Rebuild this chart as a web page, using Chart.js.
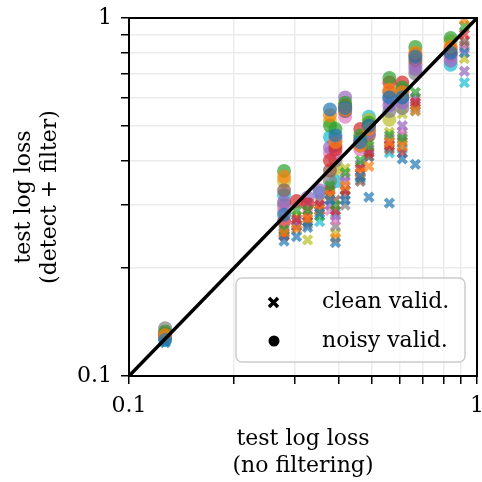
<!DOCTYPE html>
<html lang="en">
  <head>
    <meta charset="UTF-8" />
    <title>test log loss</title>
    <style>
      html, body { margin: 0; padding: 0; background: #fff; }
      .chartBox { width: 482px; height: 482px; }
    </style>
  </head>
  <body>
    <div class="chartBox">
      <canvas id="myChart"></canvas>
    </div>
    <script src="https://cdn.jsdelivr.net/npm/chart.js"></script>
    <script>
      // x: test log loss with no filtering, one value per column of points
      const lossNoFilter = [0.127, 0.279, 0.303, 0.326, 0.353, 0.378, 0.392, 0.418, 0.462, 0.489, 0.56, 0.61, 0.665, 0.84, 0.92];
      // colour order: blue, orange, green, red, purple, brown, pink, gray, olive, cyan
      const cleanValid = [
        [0.124, 0.128, 0.131, 0.129, 0.127, 0.126, 0.13, 0.134, 0.129, 0.125],
        [0.238, 0.25, 0.256, 0.246, 0.252, 0.25, 0.248, 0.251, 0.253, 0.247],
        [0.245, 0.257, 0.29, 0.275, 0.27, 0.262, 0.265, 0.262, 0.28, 0.272],
        [0.26, 0.275, 0.29, 0.28, 0.305, 0.27, 0.285, 0.265, 0.24, 0.27],
        [0.285, 0.29, 0.28, 0.3, 0.31, 0.295, 0.3, 0.29, 0.305, 0.27],
        [0.31, 0.32, 0.34, 0.33, 0.3, 0.32, 0.29, 0.31, 0.325, 0.335],
        [0.236, 0.243, 0.3, 0.29, 0.28, 0.31, 0.272, 0.262, 0.25, 0.285],
        [0.31, 0.34, 0.37, 0.33, 0.35, 0.32, 0.36, 0.3, 0.38, 0.33],
        [0.36, 0.37, 0.4, 0.38, 0.39, 0.35, 0.37, 0.36, 0.38, 0.355],
        [0.316, 0.385, 0.44, 0.42, 0.43, 0.41, 0.43, 0.42, 0.45, 0.41],
        [0.304, 0.45, 0.47, 0.44, 0.46, 0.43, 0.45, 0.44, 0.48, 0.42],
        [0.404, 0.44, 0.46, 0.42, 0.5, 0.45, 0.48, 0.47, 0.54, 0.43],
        [0.39, 0.55, 0.62, 0.58, 0.6, 0.57, 0.59, 0.56, 0.59, 0.55],
        [null, null, null, null, null, null, null, null, null, null],
        [0.8, 0.99, 0.95, 0.9, 0.71, 0.86, 0.82, 0.84, 0.77, 0.66],
      ];
      const noisyValid = [
        [0.126, 0.13, 0.133, 0.131, 0.129, 0.128, 0.132, 0.136, 0.131, 0.127],
        [0.282, 0.36, 0.374, 0.27, 0.306, 0.33, 0.29, 0.3, 0.35, 0.32],
        [null, null, null, 0.308, null, null, null, null, null, null],
        [null, null, null, 0.302, 0.315, null, null, null, null, null],
        [null, null, null, null, 0.33, null, null, null, null, 0.325],
        [0.555, 0.535, 0.5, 0.4, 0.435, 0.375, 0.42, 0.35, 0.515, 0.465],
        [0.47, 0.45, 0.49, 0.43, 0.46, 0.44, 0.42, 0.4, 0.38, 0.35],
        [0.56, 0.555, 0.58, 0.57, 0.6, 0.55, 0.53, 0.56, 0.565, 0.55],
        [0.45, 0.44, 0.47, 0.49, 0.46, 0.45, 0.43, 0.44, 0.46, 0.44],
        [0.5, 0.49, 0.51, 0.5, 0.48, 0.47, 0.5, 0.49, 0.52, 0.53],
        [0.6, 0.63, 0.68, 0.66, 0.57, 0.62, 0.59, 0.55, 0.52, 0.6],
        [0.6, 0.62, 0.64, 0.66, 0.58, 0.6, 0.62, 0.56, 0.6, 0.63],
        [0.78, 0.8, 0.83, 0.79, 0.72, 0.76, 0.74, 0.7, 0.77, 0.74],
        [0.8, 0.83, 0.88, 0.82, 0.76, 0.8, 0.78, 0.79, 0.86, 0.74],
        [null, null, null, null, null, null, null, null, null, null],
      ];
      const logTicks = [0.1, 0.2, 0.3, 0.4, 0.5, 0.6, 0.7, 0.8, 0.9, 1];
      const tab10 = ["31,119,180", "255,127,14", "44,160,44", "214,39,40", "148,103,189", "140,86,75", "227,119,194", "127,127,127", "188,189,34", "23,190,207"];

      const FONT = { family: "'DejaVu Serif', serif", size: 22 };

      function pointsFor(table, i) {
        const pts = [];
        for (let c = 0; c < lossNoFilter.length; c++) {
          if (table[c][i] != null) pts.push({ x: lossNoFilter[c], y: table[c][i] });
        }
        return pts;
      }

      const datasets = [
        {
          type: "line",
          data: [{ x: 0.1, y: 0.1 }, { x: 1, y: 1 }],
          borderColor: "#000",
          borderWidth: 3.5,
          pointRadius: 0,
          order: 0,
        },
      ];
      for (let i = 0; i < tab10.length; i++) {
        datasets.push({
          data: pointsFor(cleanValid, i),
          pointStyle: "crossRot",
          pointRadius: 6,
          borderWidth: 4,
          borderColor: `rgba(${tab10[i]},0.7)`,
          backgroundColor: `rgba(${tab10[i]},0.7)`,
          order: 1,
        });
        datasets.push({
          data: pointsFor(noisyValid, i),
          pointStyle: "circle",
          pointRadius: 7,
          borderWidth: 0,
          backgroundColor: `rgba(${tab10[i]},0.7)`,
          order: 1,
        });
      }

      const frameAndLegend = {
        id: "frameAndLegend",
        afterDatasetsDraw(chart) {
          const ctx = chart.ctx;
          const a = chart.chartArea;
          ctx.save();
          ctx.strokeStyle = "#000";
          ctx.lineWidth = 2;
          ctx.strokeRect(a.left, a.top, a.right - a.left, a.bottom - a.top);
          // legend box
          const bx = 236, by = 278, bw = 229, bh = 84;
          ctx.beginPath();
          ctx.roundRect(bx, by, bw, bh, 6);
          ctx.fillStyle = "rgba(255,255,255,0.8)";
          ctx.fill();
          ctx.strokeStyle = "#cccccc";
          ctx.lineWidth = 1.5;
          ctx.stroke();
          ctx.strokeStyle = "#000";
          ctx.lineWidth = 3.5;
          ctx.beginPath();
          ctx.moveTo(269, 298); ctx.lineTo(278, 307);
          ctx.moveTo(278, 298); ctx.lineTo(269, 307);
          ctx.stroke();
          ctx.fillStyle = "#000";
          ctx.beginPath();
          ctx.arc(274, 341, 5.5, 0, Math.PI * 2);
          ctx.fill();
          ctx.font = `${FONT.size}px ${FONT.family}`;
          ctx.textAlign = "left";
          ctx.textBaseline = "middle";
          ctx.fillText("clean valid.", 322, 302);
          ctx.fillText("noisy valid.", 322, 341);
          ctx.restore();
        },
      };

      function logAxis(extra) {
        return Object.assign({
          type: "logarithmic",
          min: 0.1,
          max: 1,
          afterBuildTicks(scale) {
            scale.ticks = logTicks.map((v) => ({ value: v, major: v === 0.1 || v === 1 }));
          },
          ticks: {
            autoSkip: false,
            maxRotation: 0,
            color: "#000",
            font: FONT,
            padding: 9,
            callback: (v) => (v === 0.1 ? "0.1" : v === 1 ? "1" : ""),
          },
          grid: {
            color: "#ebebeb",
            lineWidth: 1.5,
            tickColor: "#000",
            tickLength: 8,
            tickWidth: 1.5,
          },
          border: { color: "#000", width: 2 },
        }, extra);
      }

      const ctx = document.getElementById("myChart").getContext("2d");
      const myChart = new Chart(ctx, {
        type: "scatter",
        data: { datasets: datasets },
        options: {
          responsive: true,
          maintainAspectRatio: false,
          animation: false,
          layout: { autoPadding: false, padding: { top: 18, right: 5, left: 0, bottom: 0 } },
          plugins: { legend: { display: false }, tooltip: { enabled: false } },
          scales: {
            x: logAxis({
              afterFit(scale) {
                scale.height = 106;
                scale.paddingLeft = 0;
                scale.paddingRight = 0;
              },
              title: {
                display: true,
                text: ["test log loss", "(no filtering)"],
                color: "#000",
                font: FONT,
                padding: { top: 0, bottom: 3 },
              },
            }),
            y: logAxis({
              afterFit(scale) {
                scale.width = 129;
                scale.paddingTop = 0;
                scale.paddingBottom = 0;
              },
              title: {
                display: true,
                text: ["test log loss", "(detect + filter)"],
                color: "#000",
                font: FONT,
                padding: { top: 11, bottom: 0 },
              },
            }),
          },
        },
        plugins: [frameAndLegend],
      });
    </script>
  </body>
</html>
